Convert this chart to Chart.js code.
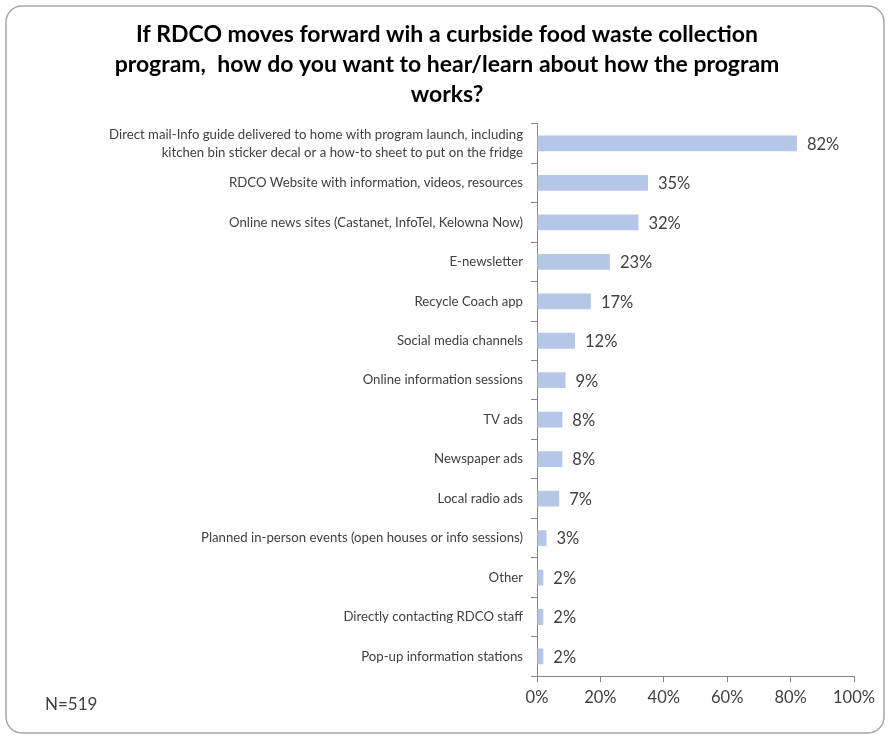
<!DOCTYPE html>
<html>
<head>
<meta charset="utf-8">
<script src="https://cdn.jsdelivr.net/npm/chart.js@4"></script>
<style>
  html, body { margin: 0; padding: 0; background: #fff; }
  #wrap { width: 889px; height: 738px; position: relative; }
</style>
</head>
<body>
<div id="wrap"><canvas id="chart" width="889" height="738"></canvas></div>
<script>
// chart values
const categories = [
  ['Direct mail-Info guide delivered to home with program launch, including', 'kitchen bin sticker decal or a how-to sheet to put on the fridge'],
  'RDCO Website with information, videos, resources',
  'Online news sites (Castanet, InfoTel, Kelowna Now)',
  'E-newsletter',
  'Recycle Coach app',
  'Social media channels',
  'Online information sessions',
  'TV ads',
  'Newspaper ads',
  'Local radio ads',
  'Planned in-person events (open houses or info sessions)',
  'Other',
  'Directly contacting RDCO staff',
  'Pop-up information stations'
];
const percents = [82, 35, 32, 23, 17, 12, 9, 8, 8, 7, 3, 2, 2, 2];
const xTicks = [0, 20, 40, 60, 80, 100];
const titleLines = [
  'If RDCO moves forward wih a curbside food waste collection',
  'program,  how do you want to hear/learn about how the program',
  'works?'
];
const sampleNote = 'N=519';

const FONT = 'Lato, "Open Sans", sans-serif';
const TEXT = '#404040';

// frame, value labels and the N note
const extras = {
  id: 'extras',
  beforeDraw(chart) {
    const c = chart.ctx;
    c.save();
    c.fillStyle = '#fff';
    c.fillRect(0, 0, chart.width, chart.height);
    c.strokeStyle = '#a6a6a6';
    c.lineWidth = 1.5;
    c.beginPath();
    c.roundRect(6, 6, 878, 727, 16);
    c.stroke();
    c.restore();
  },
  afterDatasetsDraw(chart) {
    const c = chart.ctx;
    const meta = chart.getDatasetMeta(0);
    c.save();
    c.font = '16.5px ' + FONT;
    c.fillStyle = TEXT;
    c.textBaseline = 'middle';
    c.textAlign = 'left';
    meta.data.forEach((bar, i) => {
      c.fillText(percents[i] + '%', bar.x + 10, bar.y + 1);
    });
    c.font = '17px ' + FONT;
    c.fillText(sampleNote, 45, 705);
    c.restore();
  }
};

new Chart(document.getElementById('chart'), {
  type: 'bar',
  data: {
    labels: categories,
    datasets: [{
      data: percents,
      backgroundColor: '#b4c7e7',
      borderWidth: 0,
      categoryPercentage: 1,
      barPercentage: 0.4
    }]
  },
  plugins: [extras],
  options: {
    indexAxis: 'y',
    responsive: false,
    animation: false,
    layout: { padding: { left: 40, right: 35, top: 0, bottom: 24 } },
    plugins: {
      legend: { display: false },
      tooltip: { enabled: false },
      title: {
        display: true,
        text: titleLines,
        color: '#000',
        font: { family: FONT, size: 23, weight: 'bold', lineHeight: 1.3 },
        padding: { top: 20, bottom: 14 }
      }
    },
    scales: {
      x: {
        min: 0,
        max: 100,
        afterBuildTicks(scale) {
          scale.ticks = xTicks.map(v => ({ value: v }));
        },
        grid: { drawOnChartArea: false, color: '#868686', tickLength: 6, tickColor: '#868686' },
        border: { color: '#868686' },
        ticks: {
          color: TEXT,
          padding: 6,
          maxRotation: 0,
          font: { family: FONT, size: 16.5 },
          callback: v => v + '%'
        }
      },
      y: {
        afterFit(scale) { scale.width = 497; },
        grid: { drawOnChartArea: false, offset: true, color: '#868686', tickLength: 6, tickColor: '#868686' },
        border: { color: '#868686' },
        ticks: {
          color: TEXT,
          padding: 8,
          font: { family: FONT, size: 13.2, lineHeight: 1.35 }
        }
      }
    }
  }
});
</script>
</body>
</html>
